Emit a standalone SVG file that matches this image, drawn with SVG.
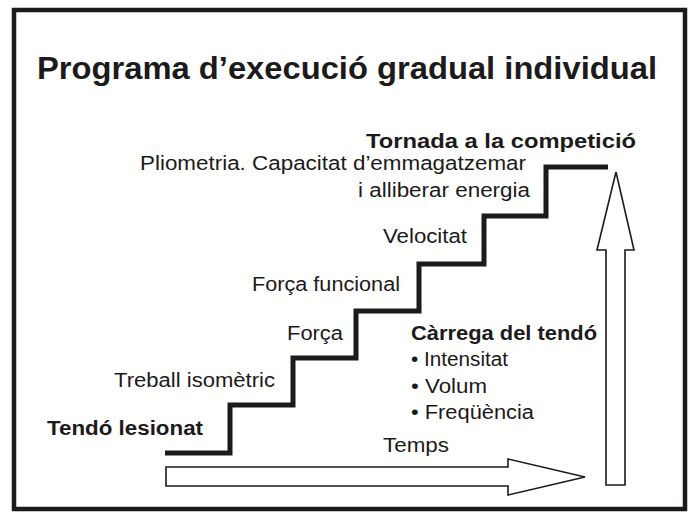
<svg xmlns="http://www.w3.org/2000/svg" width="700" height="519" viewBox="0 0 700 519">
<style>
text{font-family:"Liberation Sans",Arial,Helvetica,sans-serif;fill:#1c1a1a}
.t{font-size:20px}
.b{font-size:20px;font-weight:bold}
.title{font-size:31px;font-weight:bold}
.frame{fill:none;stroke:#1c1a1a;stroke-width:4.5}
.stair{fill:none;stroke:#1c1a1a;stroke-width:5;stroke-linejoin:miter}
.arrow{fill:#fff;stroke:#1c1a1a;stroke-width:1.6;stroke-linejoin:miter}
</style>
<rect width="700" height="519" fill="#fff"/>
<rect class="frame" x="14" y="10" width="671" height="499"/>
<text class="title" x="37" y="79" textLength="620" lengthAdjust="spacingAndGlyphs">Programa d’execució gradual individual</text>
<g id="stairs">
<path class="stair" d="M165,453 H230 V405 H293 V358 H356 V311 H419 V264 H484 V216 H546 V167 H608"/>
</g>
<g id="labels">
<text class="b" x="366" y="148" textLength="270" lengthAdjust="spacingAndGlyphs">Tornada a la competició</text>
<text class="t" x="140" y="170" textLength="386" lengthAdjust="spacingAndGlyphs">Pliometria. Capacitat d’emmagatzemar</text>
<text class="t" x="358" y="197" textLength="172" lengthAdjust="spacingAndGlyphs">i alliberar energia</text>
<text class="t" x="383" y="243" textLength="84" lengthAdjust="spacingAndGlyphs">Velocitat</text>
<text class="t" x="252" y="291" textLength="148" lengthAdjust="spacingAndGlyphs">Força funcional</text>
<text class="t" x="287" y="340" textLength="56" lengthAdjust="spacingAndGlyphs">Força</text>
<text class="t" x="114" y="387" textLength="161" lengthAdjust="spacingAndGlyphs">Treball isomètric</text>
<text class="b" x="47" y="435" textLength="156" lengthAdjust="spacingAndGlyphs">Tendó lesionat</text>
<text class="b" x="411" y="340" textLength="186" lengthAdjust="spacingAndGlyphs">Càrrega del tendó</text>
<text class="t" x="411" y="366" textLength="97" lengthAdjust="spacingAndGlyphs">• Intensitat</text>
<text class="t" x="411" y="393" textLength="76" lengthAdjust="spacingAndGlyphs">• Volum</text>
<text class="t" x="411" y="419" textLength="123" lengthAdjust="spacingAndGlyphs">• Freqüència</text>
<text class="t" x="383" y="452" textLength="66" lengthAdjust="spacingAndGlyphs">Temps</text>
</g>
<g id="connectors">
<path id="time-arrow" class="arrow" d="M166,467 H508 V459 L585,477 L508,495 V486 H166 Z"/>
<path id="load-arrow" class="arrow" d="M606,485 V250 H597 L616,172 L634,250 H625 V485 Z"/>
</g>
</svg>
